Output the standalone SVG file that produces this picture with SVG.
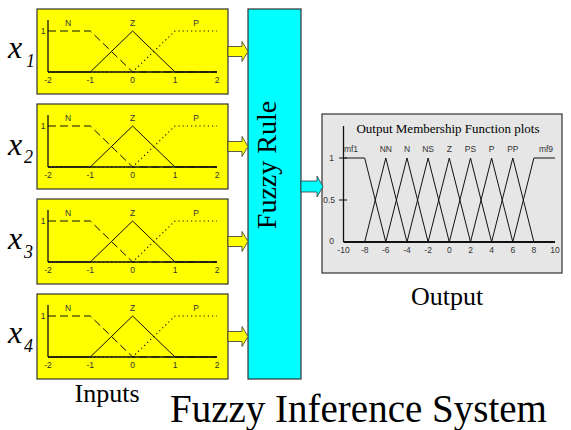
<svg xmlns="http://www.w3.org/2000/svg" xmlns:xlink="http://www.w3.org/1999/xlink" width="571" height="430" viewBox="0 0 571 430">
<style>
.ibox{fill:#ffff00;stroke:#333;stroke-width:1.2}
.yarr{fill:#ffff00;stroke:#333;stroke-width:0.8}
.carr{fill:#00ffff;stroke:#333;stroke-width:0.8}
.ax{stroke:#111;stroke-width:1.3;fill:none}
.solid{stroke:#111;stroke-width:1;fill:none}
.dash{stroke:#111;stroke-width:1;fill:none;stroke-dasharray:8 4}
.dot{stroke:#111;stroke-width:1.1;fill:none;stroke-dasharray:1.2 3}
.sm{font-family:"Liberation Sans",Arial,sans-serif;font-size:8.5px;fill:#333;text-anchor:middle}
.big{font-family:"Liberation Serif","Times New Roman",serif;fill:#000}
.xl{font-family:"Liberation Serif","Times New Roman","DejaVu Serif",serif;font-style:italic;fill:#000}
.omf{stroke:#111;stroke-width:1;fill:none}
</style>
<defs>
<g id="mfplot">
<rect class="ibox" x="0" y="0" width="191" height="85"/>
<line class="ax" x1="11" y1="11" x2="11" y2="63"/>
<line class="ax" x1="11" y1="63" x2="180" y2="63"/>
<polyline class="dash" points="11,22 53.3,22 95.6,63 180,63"/>
<polyline class="solid" points="11,63 53.3,63 95.6,22 138,63 180,63"/>
<polyline class="dot" points="11,63 95.6,63 138,22 180,22"/>
<text class="sm" x="6" y="25">1</text>
<text class="sm" x="31" y="17">N</text>
<text class="sm" x="95.6" y="17">Z</text>
<text class="sm" x="159" y="17">P</text>
<text class="sm" x="11" y="74">-2</text>
<text class="sm" x="53.3" y="74">-1</text>
<text class="sm" x="95.6" y="74">0</text>
<text class="sm" x="138" y="74">1</text>
<text class="sm" x="180" y="74">2</text>
</g>
<path id="yarrow" class="yarr" d="M191,37.5 H205 V32.5 L211,42.5 L205,52.5 V47.5 H191 Z"/>
</defs>

<g id="input1">
<use xlink:href="#mfplot" transform="translate(37,9)"/>
<text class="xl" x="8" y="58" font-size="32">x</text><text class="xl" x="26" y="67" font-size="18">1</text>
</g>
<g id="input2">
<use xlink:href="#mfplot" transform="translate(37,104)"/>
<text class="xl" x="8" y="155" font-size="32">x</text><text class="xl" x="24" y="163" font-size="18">2</text>
</g>
<g id="input3">
<use xlink:href="#mfplot" transform="translate(37,199)"/>
<text class="xl" x="8" y="249" font-size="32">x</text><text class="xl" x="24" y="258" font-size="18">3</text>
</g>
<g id="input4">
<use xlink:href="#mfplot" transform="translate(37,294)"/>
<text class="xl" x="8" y="343" font-size="32">x</text><text class="xl" x="24" y="352" font-size="18">4</text>
</g>

<g id="fuzzyrule">
<rect x="248" y="9" width="53" height="370" fill="#00ffff" stroke="#333" stroke-width="1.2"/>
<text class="big" font-size="28" text-anchor="middle" transform="translate(276,165) rotate(-90)">Fuzzy Rule</text>
</g>

<g id="output">
<rect x="322" y="114" width="240" height="159" fill="#e6e6e6" stroke="#333" stroke-width="1.2"/>
<text class="big" font-size="13" x="448" y="133" text-anchor="middle">Output Membership Function plots</text>
<line class="ax" x1="343.5" y1="126" x2="343.5" y2="242"/>
<line x1="343.5" y1="242" x2="555" y2="242" stroke="#111" stroke-width="2"/>
<line class="solid" x1="339" y1="158" x2="347" y2="158"/>
<line class="solid" x1="339" y1="200" x2="347" y2="200"/>
<text class="sm" style="text-anchor:end" x="334" y="161">1</text>
<text class="sm" style="text-anchor:end" x="335" y="203">0.5</text>
<text class="sm" style="text-anchor:end" x="334" y="244">0</text>
<polyline class="omf" points="344.5,158 364.7,158 385.8,242"/>
<polyline class="omf" points="364.7,242 385.8,158 407,242"/>
<polyline class="omf" points="385.8,242 407,158 428.1,242"/>
<polyline class="omf" points="407,242 428.1,158 449.3,242"/>
<polyline class="omf" points="428.1,242 449.3,158 470.5,242"/>
<polyline class="omf" points="449.3,242 470.5,158 491.6,242"/>
<polyline class="omf" points="470.5,242 491.6,158 512.8,242"/>
<polyline class="omf" points="491.6,242 512.8,158 533.9,242"/>
<polyline class="omf" points="512.8,242 533.9,158 555,158"/>
<g class="sm">
<text x="351" y="152">mf1</text>
<text x="385.8" y="152">NN</text>
<text x="407" y="152">N</text>
<text x="428.1" y="152">NS</text>
<text x="449.3" y="152">Z</text>
<text x="470.5" y="152">PS</text>
<text x="491.6" y="152">P</text>
<text x="512.8" y="152">PP</text>
<text x="546" y="152">mf9</text>
<text x="343.5" y="253">-10</text>
<text x="364.7" y="253">-8</text>
<text x="385.8" y="253">-6</text>
<text x="407" y="253">-4</text>
<text x="428.1" y="253">-2</text>
<text x="449.3" y="253">0</text>
<text x="470.5" y="253">2</text>
<text x="491.6" y="253">4</text>
<text x="512.8" y="253">6</text>
<text x="533.9" y="253">8</text>
<text x="555" y="253">10</text>
</g>
</g>

<g id="connectors">
<use xlink:href="#yarrow" transform="translate(37,9)"/>
<use xlink:href="#yarrow" transform="translate(37,104)"/>
<use xlink:href="#yarrow" transform="translate(37,199)"/>
<use xlink:href="#yarrow" transform="translate(37,294)"/>
<path class="carr" d="M301,181 H317 V176 L323,186.5 L317,197 V192 H301 Z"/>
</g>

<g id="labels">
<text class="big" font-size="26" x="107" y="402" text-anchor="middle">Inputs</text>
<text class="big" font-size="26" x="447" y="305" text-anchor="middle">Output</text>
<text class="big" font-size="39" x="170" y="422">Fuzzy Inference System</text>
</g>
</svg>
